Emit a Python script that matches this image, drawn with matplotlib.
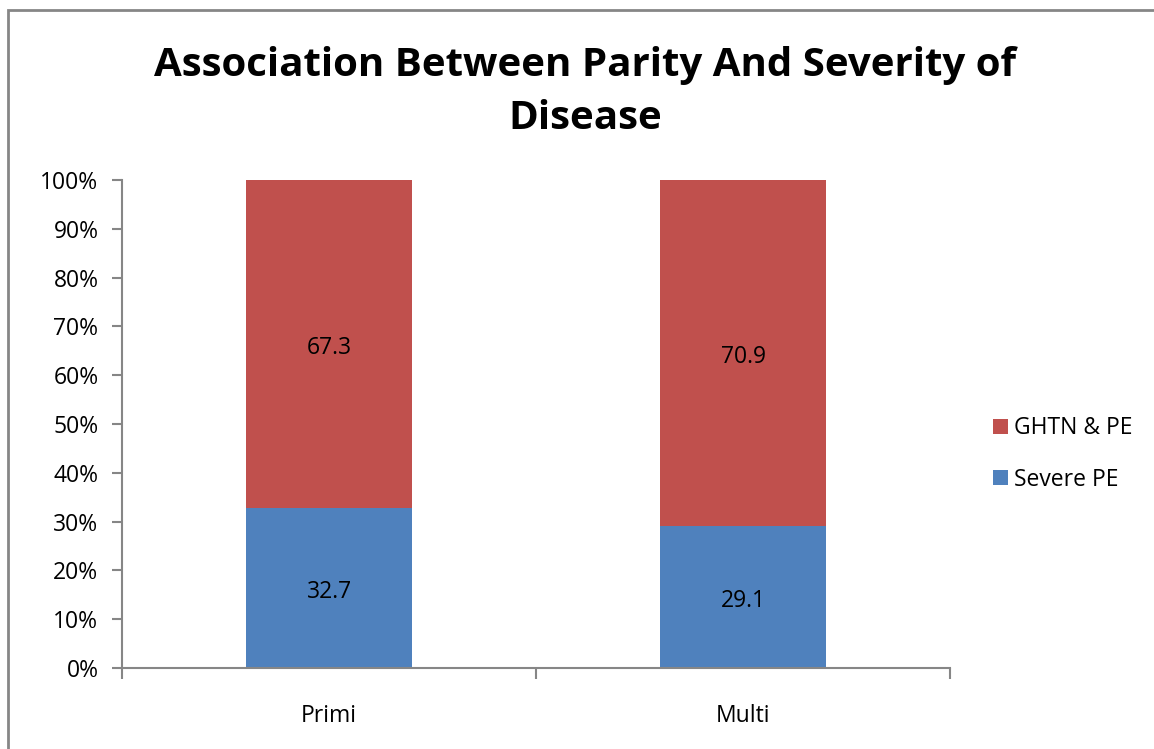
import matplotlib
matplotlib.use("Agg")
import matplotlib.pyplot as plt
from matplotlib.patches import Rectangle

categories = ["Primi", "Multi"]
severe_pe = [32.7, 29.1]
ghtn_pe = [67.3, 70.9]

plt.rcParams['font.family'] = ['Open Sans', 'DejaVu Sans']

fig = plt.figure(figsize=(11.54, 7.49), dpi=100)
ax = fig.add_axes([122 / 1154, 1 - 668 / 749, 828 / 1154, 488 / 749])

x = range(len(categories))
blue = ax.bar(x, severe_pe, width=0.4, color="#4F81BD", label="Severe PE")
red = ax.bar(x, ghtn_pe, width=0.4, bottom=severe_pe, color="#C0504D", label="GHTN & PE")

for i in x:
    ax.text(i, severe_pe[i] / 2 - 0.8, f"{severe_pe[i]:.1f}", ha="center", va="center", fontsize=16.5)
    ax.text(i, severe_pe[i] + ghtn_pe[i] / 2 - 0.8, f"{ghtn_pe[i]:.1f}", ha="center", va="center", fontsize=16.5)

ax.set_xlim(-0.5, 1.5)
ax.set_ylim(0, 100)
ax.set_yticks(range(0, 101, 10))
ax.set_yticklabels([f"{v}%" for v in range(0, 101, 10)], fontsize=16.5)
ax.set_xticks([-0.5, 0.5, 1.5], minor=False)
ax.set_xticklabels([])
ax.set_xticks(list(x), minor=True)
ax.set_xticklabels(categories, minor=True, fontsize=16.5)
ax.tick_params(axis="x", which="minor", length=0, pad=26)
ax.tick_params(axis="x", which="major", length=8, color="#868686", width=1.5)
ax.tick_params(axis="y", length=7, color="#868686", width=1.5, pad=10)

for side in ["top", "right"]:
    ax.spines[side].set_visible(False)
for side in ["left", "bottom"]:
    ax.spines[side].set_color("#868686")
    ax.spines[side].set_linewidth(1.5)

fig.text(585 / 1154, 1 - 92 / 749, "Association Between Parity And Severity of\nDisease",
         ha="center", va="center", fontsize=29, fontweight="bold", linespacing=1.45)

ax.legend(handles=[red, blue], loc="center left", bbox_to_anchor=(972 / 1154, 1 - 454 / 749),
          bbox_transform=fig.transFigure, frameon=False, fontsize=16.5,
          handlelength=0.65, handleheight=0.65, handletextpad=0.3, labelspacing=1.2)

fig.patches.append(Rectangle((8 / 1154, -0.1), 1.2, 1 - 10 / 749 + 0.1, transform=fig.transFigure,
                             fill=False, edgecolor="#868686", linewidth=2))

fig.savefig("out.png", dpi=100)
